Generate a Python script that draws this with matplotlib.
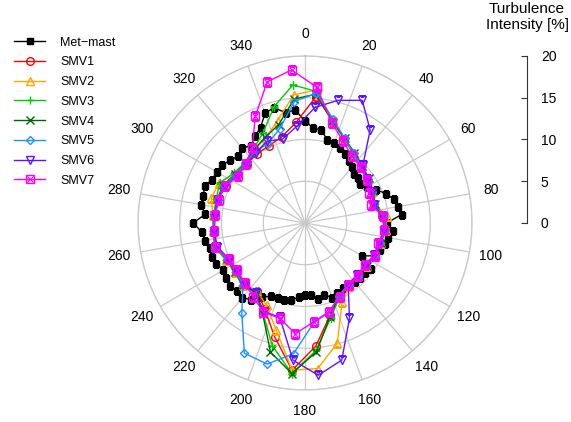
import numpy as np
import matplotlib.pyplot as plt
from matplotlib.legend_handler import HandlerTuple

plt.rcParams['font.family'] = ['Liberation Sans', 'DejaVu Sans']

# wind direction bins (deg) and turbulence intensity (%)
mast_dir = list(range(0, 360, 5))
mast_ti = [12.2, 11.4, 11.3, 10.3, 10.2, 9.9, 9.6, 9.1, 8.7, 8.3, 8.3, 8.1,
           8.6, 9.4, 10.3, 11.0, 11.3, 11.6, 9.8, 10.6, 10.1, 9.9, 9.6, 9.3,
           7.9, 9.6, 9.4, 9.3, 9.3, 9.1, 9.0, 9.2, 9.5, 8.9, 9.2, 8.7,
           8.6, 8.9, 9.4, 9.5, 9.5, 9.7, 10.2, 11.2, 11.7, 11.6, 11.7, 11.5,
           11.3, 11.7, 11.9, 11.8, 12.2, 12.4, 13.4, 12.0, 12.7, 12.6, 12.8, 12.3,
           12.2, 12.1, 11.7, 11.3, 11.7, 11.3, 12.0, 12.6, 14.0, 14.3, 13.4, 13.6]

smv_dir = list(range(5, 360, 10))
smv1 = [15.2, 12.7, 11.1, 10.1, 9.5, 9.1, 8.8, 8.5, 9.3, 9.6, 9.3, 9.2,
        8.9, 8.9, 9.0, 9.7, 11.5, 14.8, 17.7, 14.1, 11.4, 10.0, 10.4, 10.1,
        10.2, 11.0, 11.0, 10.9, 10.9, 10.4, 9.9, 9.9, 10.1, 10.2, 10.7, 12.1]
smv2 = [16.0, 12.8, 11.1, 10.2, 9.6, 9.2, 8.9, 8.7, 9.8, 9.7, 9.4, 9.3,
        9.0, 9.0, 9.2, 10.5, 14.9, 17.5, 17.7, 13.3, 10.9, 10.0, 10.5, 10.3,
        10.5, 11.2, 11.1, 11.1, 11.6, 11.4, 10.3, 10.2, 10.6, 11.2, 12.7, 15.4]
smv3 = [15.8, 12.7, 11.2, 10.2, 9.6, 9.2, 8.9, 8.6, 9.4, 9.6, 9.4, 9.3,
        9.0, 9.0, 9.1, 9.8, 11.8, 15.3, 18.1, 15.2, 11.9, 10.3, 10.6, 10.3,
        10.4, 11.2, 11.1, 11.0, 11.0, 11.3, 10.4, 10.2, 10.8, 11.9, 14.4, 16.6]
smv4 = [15.5, 12.6, 11.2, 10.3, 9.7, 9.3, 9.0, 8.7, 9.4, 9.6, 9.4, 9.3,
        9.0, 9.0, 9.1, 9.6, 11.6, 15.5, 18.1, 16.0, 12.0, 10.2, 10.5, 10.2,
        10.3, 11.1, 11.0, 10.9, 10.9, 10.8, 10.2, 10.1, 10.7, 11.3, 12.2, 14.9]
smv5 = [15.6, 12.9, 11.2, 10.2, 9.6, 9.2, 8.9, 8.6, 9.4, 9.6, 9.3, 9.2,
        8.9, 8.9, 9.0, 9.6, 11.1, 12.0, 15.7, 17.5, 17.2, 13.2, 10.5, 10.1,
        10.3, 11.1, 11.0, 10.9, 10.8, 10.7, 10.1, 10.1, 10.4, 10.5, 11.7, 14.6]
smv6 = [13.9, 15.2, 16.2, 13.6, 9.8, 9.1, 8.8, 8.5, 9.3, 9.5, 9.2, 9.1,
        8.8, 8.8, 9.0, 12.6, 17.0, 18.3, 16.5, 11.7, 11.7, 10.3, 10.2, 10.0,
        10.1, 10.9, 10.9, 10.8, 10.8, 10.6, 9.9, 9.9, 10.3, 10.8, 10.4, 11.6]
smv7 = [16.3, 12.4, 10.8, 9.8, 9.4, 9.0, 8.5, 8.2, 9.4, 9.5, 9.1, 9.3,
        8.8, 8.9, 9.1, 9.8, 11.0, 11.9, 13.3, 11.8, 11.8, 10.8, 10.2, 9.9,
        10.1, 11.1, 11.0, 10.8, 10.7, 10.6, 9.8, 10.0, 11.0, 14.1, 17.5, 18.4]

labels = ['Met\u2212mast', 'SMV1', 'SMV2', 'SMV3', 'SMV4', 'SMV5', 'SMV6', 'SMV7']
colors = ['black', '#ff0000', '#ffa500', '#00cc00', '#006400', '#1e90ff', '#5b14ff', '#ff00ff']
markers = ['s', 'o', '^', '+', 'x', 'D', 'v', 's']


def closed(d, v):
    th = np.deg2rad(list(d) + [d[0]])
    return th, list(v) + [v[0]]


fig = plt.figure(figsize=(5.71, 4.22), dpi=100)
ax = fig.add_axes([0.2417, 0.0759, 0.585, 0.7915], projection='polar')
ax.set_theta_zero_location('N')
ax.set_theta_direction(-1)

series = [(mast_dir, mast_ti)] + [(smv_dir, s) for s in [smv1, smv2, smv3, smv4, smv5, smv6, smv7]]
handles = []
for i, (d, v) in enumerate(series):
    th, r = closed(d, v)
    if i == 0:
        h, = ax.plot(th, r, color=colors[i], marker='s', ms=5, lw=1, mfc='black', mec='black')
        handles.append(h)
    elif i == 7:
        h, = ax.plot(th, r, color=colors[i], marker='s', ms=5.5, lw=1, mfc='none', mew=1)
        h2, = ax.plot(th, r, color=colors[i], marker='x', ms=4, lw=0, mew=0.8)
        handles.append((h, h2))
    else:
        ms = 4.5 if markers[i] == 'D' else 5.5
        h, = ax.plot(th, r, color=colors[i], marker=markers[i], ms=ms, lw=1, mfc='none', mew=1)
        handles.append(h)

ax.set_rlim(0, 20)
ax.set_rgrids([5, 10, 15, 20], labels=[])
ax.set_thetagrids(range(0, 360, 20), [str(a) for a in range(0, 360, 20)])
ax.tick_params(axis='x', labelsize=10, pad=5)
ax.grid(True, color='#c8c8c8', lw=0.9, ls='-')
ax.spines['polar'].set_color('#c8c8c8')
ax.spines['polar'].set_linewidth(0.9)

fig.legend(handles, labels, loc='upper left', bbox_to_anchor=(0.005, 0.94),
           frameon=False, fontsize=9, handlelength=2.5, handletextpad=1.2,
           labelspacing=0.62, handler_map={tuple: HandlerTuple(ndivide=1)})

# radial scale at the right
sx = fig.add_axes([0.88, 0.4716, 0.043, 0.3957])
sx.set_ylim(0, 20)
sx.set_yticks([0, 5, 10, 15, 20])
for s in ['left', 'top', 'bottom']:
    sx.spines[s].set_visible(False)
sx.spines['right'].set_color('#333333')
sx.set_xticks([])
sx.yaxis.tick_right()
sx.tick_params(axis='y', direction='in', length=4, pad=10, labelsize=10, color='#333333')
sx.patch.set_visible(False)

fig.text(527 / 571, 1 - 2 / 422, 'Turbulence\nIntensity [%]', ha='center', va='top',
         fontsize=11, linespacing=1.15)

fig.savefig('out.png', dpi=100)
